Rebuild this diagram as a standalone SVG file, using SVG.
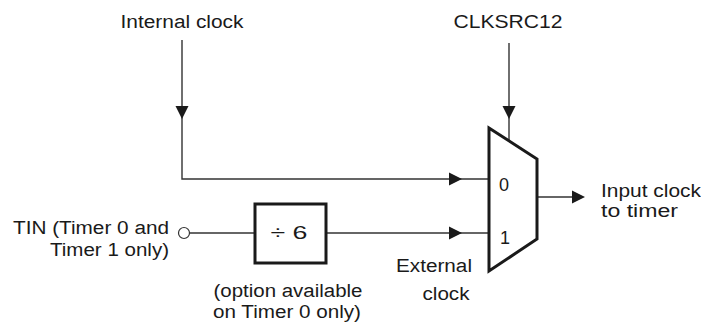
<svg xmlns="http://www.w3.org/2000/svg" xmlns:xlink="http://www.w3.org/1999/xlink" width="701" height="324" viewBox="0 0 701 324">
<style>
text{font-family:"Liberation Sans",Arial,sans-serif;font-size:18px;fill:#1a1a1a}
.ln{stroke:#333;stroke-width:1.4;fill:none}
.blk{stroke:#1a1a1a;stroke-width:3;fill:#fff}
.ah{fill:#1a1a1a}
</style>
<defs>
<path id="arr" d="M0,0 L-13,-6.5 L-13,6.5 Z"/>
</defs>
<rect width="701" height="324" fill="#fff"/>
<g id="connectors">
<polyline class="ln" points="182,40 182,179 489,179"/>
<line class="ln" x1="509" y1="43" x2="509" y2="141"/>
<line class="ln" x1="190" y1="233" x2="255" y2="233"/>
<line class="ln" x1="326" y1="233" x2="489" y2="233"/>
<line class="ln" x1="537" y1="197" x2="575" y2="197"/>
<use class="ah" xlink:href="#arr" transform="translate(182,119) rotate(90)"/>
<use class="ah" xlink:href="#arr" transform="translate(509,119) rotate(90)"/>
<use class="ah" xlink:href="#arr" transform="translate(462,179)"/>
<use class="ah" xlink:href="#arr" transform="translate(462,233)"/>
<use class="ah" xlink:href="#arr" transform="translate(585,197)"/>
</g>
<g id="internal-clock"><text x="182" y="28" text-anchor="middle" textLength="123" lengthAdjust="spacingAndGlyphs">Internal clock</text></g>
<g id="clksrc12"><text x="508" y="28" text-anchor="middle" textLength="109" lengthAdjust="spacingAndGlyphs">CLKSRC12</text></g>
<g id="tin">
<circle cx="184" cy="233" r="5.5" fill="#fff" stroke="#333" stroke-width="1.2"/>
<text x="169" y="234" text-anchor="end" textLength="156" lengthAdjust="spacingAndGlyphs">TIN (Timer 0 and</text>
<text x="169" y="256" text-anchor="end" textLength="119" lengthAdjust="spacingAndGlyphs">Timer 1 only)</text>
</g>
<g id="divider">
<rect class="blk" x="255" y="204" width="71" height="59"/>
<text x="289" y="239" text-anchor="middle" font-size="21" textLength="37" lengthAdjust="spacingAndGlyphs">÷ 6</text>
<text x="288" y="297" text-anchor="middle" textLength="149" lengthAdjust="spacingAndGlyphs">(option available</text>
<text x="287" y="318" text-anchor="middle" textLength="148" lengthAdjust="spacingAndGlyphs">on Timer 0 only)</text>
</g>
<g id="external-clock">
<text x="434" y="272" text-anchor="middle" textLength="76" lengthAdjust="spacingAndGlyphs">External</text>
<text x="446" y="300" text-anchor="middle" textLength="47" lengthAdjust="spacingAndGlyphs">clock</text>
</g>
<g id="mux">
<polygon class="blk" points="489,128 537,159 537,239 489,271"/>
<text x="499" y="191" font-size="19">0</text>
<text x="500" y="244" font-size="19">1</text>
</g>
<g id="output">
<text x="601" y="197" textLength="100" lengthAdjust="spacingAndGlyphs">Input clock</text>
<text x="601" y="217" textLength="77" lengthAdjust="spacingAndGlyphs">to timer</text>
</g>
</svg>
